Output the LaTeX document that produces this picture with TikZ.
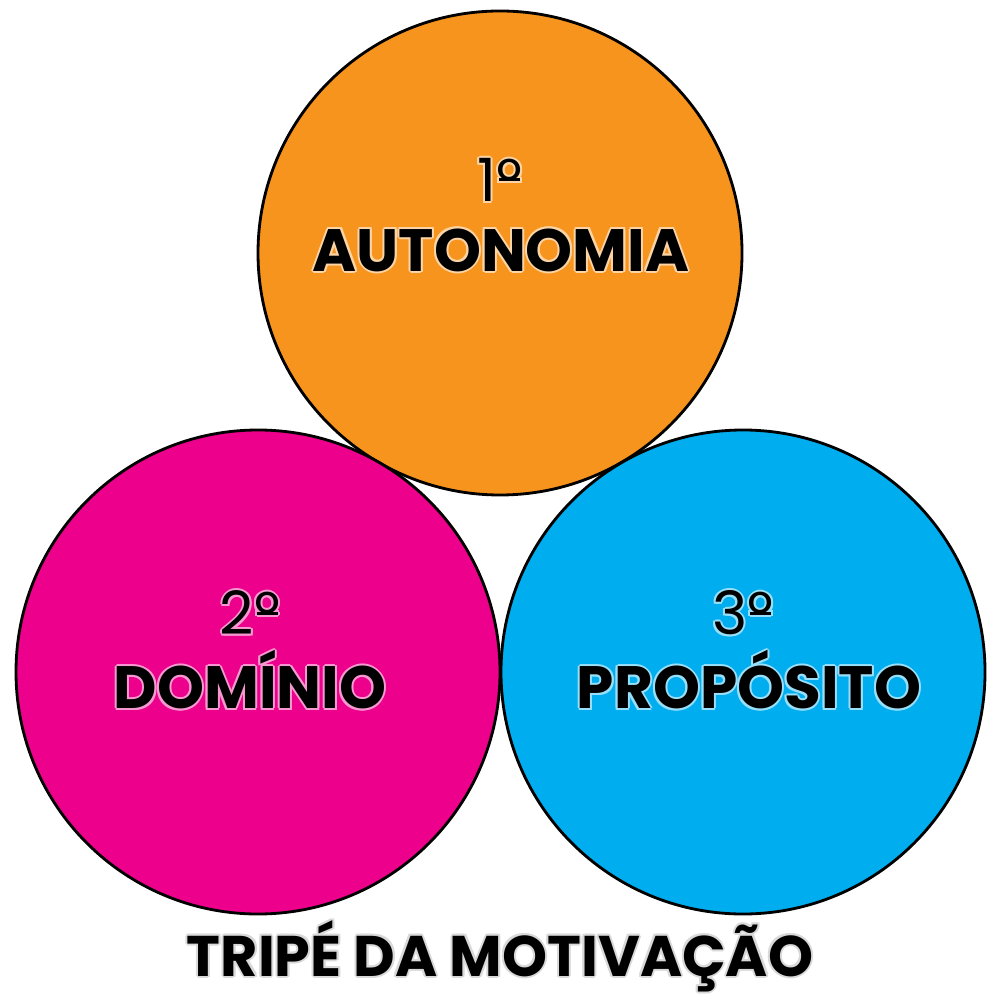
\documentclass[tikz,border=0pt]{standalone}
\usepackage{fontspec}
\setmainfont{Poppins}
\definecolor{corange}{HTML}{F7941D}
\definecolor{cpink}{HTML}{EC008C}
\definecolor{cblue}{HTML}{00AEEF}
\newcommand{\ordmark}{{\setbox0\hbox{º}\rlap{\hspace{0.04em}\rule[0.34em]{\dimexpr\wd0-0.08em\relax}{0.05em}}\box0}}
\tikzset{
  circ/.style={draw=black, line width=0.8pt, circle, minimum size=4.84cm, inner sep=0pt},
  num/.style={font=\fontsize{17}{17}\selectfont, text=black, inner sep=0pt},
  word/.style={font=\fontsize{17}{17}\selectfont\bfseries, text=black, inner sep=0pt},
  title/.style={font=\fontsize{16.3}{16.3}\selectfont\bfseries, text=black, inner sep=0pt},
}
\newcommand{\halolabel}[5]{% name, position, style, halo colour, text
  \foreach \dx/\dy [count=\k] in {0.02/0,-0.02/0,0/0.02,0/-0.02,0.015/0.015,-0.015/0.015,0.015/-0.015,-0.015/-0.015}{
    \node[#3, text=#4] (#1-h\k) at ([shift={(\dx,\dy)}]#2) {#5};
  }
  \node[#3] (#1) at (#2) {#5};
}
\begin{document}
\begin{tikzpicture}
\useasboundingbox (0,0) rectangle (10,-10);
\fill[white] (0,0) rectangle (10,-10);
\node[circ, fill=corange] (auto) at (5,-2.53) {};
\node[circ, fill=cpink] (dom) at (2.58,-6.72) {};
\node[circ, fill=cblue] (prop) at (7.43,-6.72) {};
\halolabel{n1}{5,-1.80}{num}{corange!40!white}{1\ordmark}
\halolabel{w1}{5.01,-2.50}{word}{corange!40!white}{AUTONOMIA}
\halolabel{n2}{2.50,-6.13}{num}{cpink!40!white}{2\ordmark}
\halolabel{w2}{2.50,-6.80}{word}{cpink!40!white}{DOMÍNIO}
\halolabel{n3}{7.43,-6.13}{num}{cblue!40!white}{3\ordmark}
\halolabel{w3}{7.49,-6.80}{word}{cblue!40!white}{PROPÓSITO}
\halolabel{t}{5,-9.56}{title}{black!15}{TRIPÉ DA MOTIVAÇÃO}
\end{tikzpicture}
\end{document}
